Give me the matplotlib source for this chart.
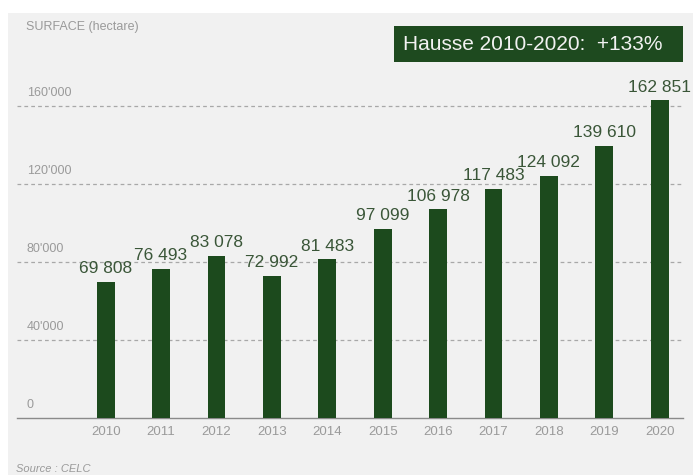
import matplotlib.pyplot as plt
import matplotlib.patches as patches

# Data
years  = ["2010", "2011", "2012", "2013", "2014", "2015", "2016", "2017", "2018", "2019", "2020"]
values = [69808, 76493, 83078, 72992, 81483, 97099, 106978, 117483, 124092, 139610, 162851]
yticks = [0, 40000, 80000, 120000, 160000]
ytick_labels = ["0", "40'000", "80'000", "120'000", "160'000"]

BAR_COLOR   = "#1c4a1d"
LABEL_COLOR = "#3a5638"
GREY_TEXT   = "#9a9a9a"
PANEL       = "#f1f1f1"

plt.rcParams["font.family"] = ["Liberation Sans", "DejaVu Sans"]

fig = plt.figure(figsize=(6.93, 4.75), dpi=100)
W, H = 693, 475

def fx(px):
    return px / W

def fy(py):
    return 1 - py / H

# light grey panel behind everything
fig.patches.append(patches.Rectangle((fx(8), 0), 1 - fx(8), fy(13), transform=fig.transFigure,
                                     facecolor=PANEL, edgecolor="none", zorder=-5))

ax = fig.add_axes([fx(17), fy(418), fx(683) - fx(17), fy(47.5) - fy(418)])
ax.set_facecolor("none")
ax.set_zorder(1)

x = list(range(len(years)))
ax.bar(x, values, width=0.32, color=BAR_COLOR, zorder=3)
ax.set_xlim(-1.6, 10.42)
ax.set_ylim(0, 190000)

# dashed gridlines with labels sitting just above them
for v, lab in zip(yticks, ytick_labels):
    if v > 0:
        ax.axhline(v, color="#a8a8a8", linestyle=(0, (3, 2.5)), linewidth=0.9, zorder=1)
    ax.annotate(lab, xy=(0, v), xycoords=("axes fraction", "data"), xytext=(7, 5),
                textcoords="offset points", fontsize=9, color=GREY_TEXT, va="bottom", ha="left")

# value labels above bars
for xi, v in zip(x, values):
    ax.annotate(f"{v:,}".replace(",", " "), xy=(xi, v), xytext=(0, 4),
                textcoords="offset points", ha="center", va="bottom",
                fontsize=12.5, color=LABEL_COLOR, zorder=4)

ax.set_xticks(x)
ax.set_xticklabels(years, fontsize=9.5, color=GREY_TEXT)
ax.tick_params(axis="x", length=0, pad=6)
ax.set_yticks([])
for s in ["top", "right", "left"]:
    ax.spines[s].set_visible(False)
ax.spines["bottom"].set_color("#8a8a8a")
ax.spines["bottom"].set_linewidth(1.0)

fig.text(fx(26), fy(27), "SURFACE (hectare)", fontsize=9, color=GREY_TEXT, va="center", ha="left")
fig.text(fx(16), fy(469), "Source : CELC", fontsize=8, color=GREY_TEXT, style="italic",
         va="center", ha="left")

# headline box
fig.patches.append(patches.Rectangle((fx(394), fy(62)), fx(683) - fx(394), fy(26) - fy(62),
                                     transform=fig.transFigure, facecolor="#1e4a1f",
                                     edgecolor="none", zorder=2))
fig.text(fx(533), fy(44), "Hausse 2010-2020:  +133%", fontsize=15, color="#f2f2f2",
         ha="center", va="center", zorder=3)

fig.savefig("out.png", dpi=100, facecolor="white")
